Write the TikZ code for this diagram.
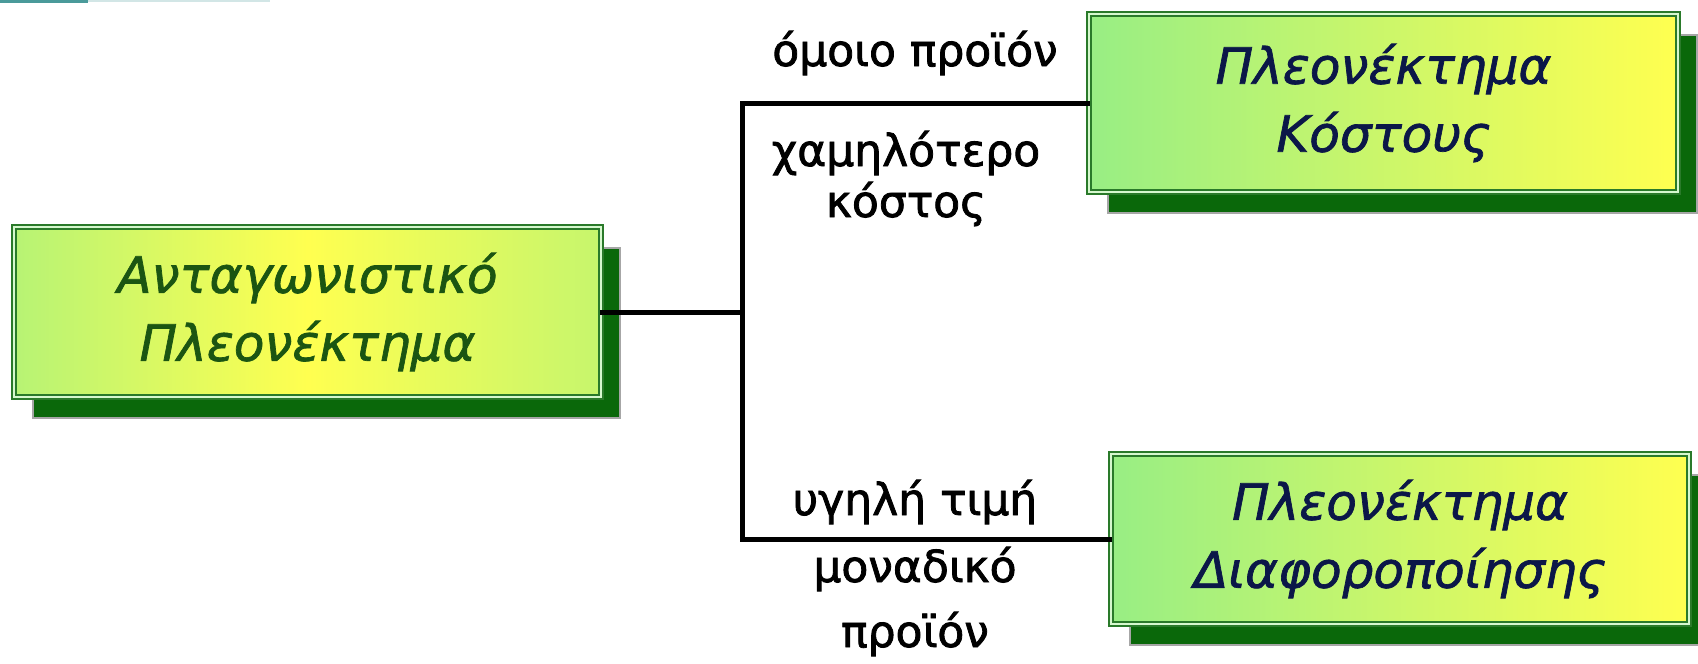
\documentclass[tikz,border=0pt]{standalone}
\usepackage{fontspec}
\setmainfont{DejaVu Sans}
\newfontfamily\labelfont[FakeBold=1.8]{DejaVu Sans}
\newfontfamily\boxfont[FakeBold=1.4]{DejaVu Sans}
\usetikzlibrary{shadows}
\definecolor{framegreen}{HTML}{2A7A2A}
\definecolor{shadowgreen}{HTML}{0A680A}
\definecolor{fillgreen}{HTML}{98EE84}
\definecolor{fillyellow}{HTML}{FFFF50}
\definecolor{textgreen}{HTML}{1B5512}
\definecolor{textnavy}{HTML}{0B1748}
\definecolor{cornerteal}{HTML}{4A9A9A}
\tikzset{
  conceptbox/.style={
    draw=framegreen, line width=2.2pt, double=white!60!fillgreen, double distance=1.6pt,
    drop shadow={shadow xshift=19pt, shadow yshift=-21pt, fill=shadowgreen, draw=gray!70, opacity=1},
    align=center, inner sep=0pt, font=\boxfont\itshape\fontsize{50}{68}\selectfont},
  mainbox/.style={conceptbox, left color=fillgreen!70!fillyellow, right color=fillgreen!55!fillyellow,
    middle color=fillyellow, text=textgreen},
  branchbox/.style={conceptbox, left color=fillgreen, right color=fillyellow, text=textnavy},
  conn/.style={line width=5pt, black, line join=miter, line cap=rect},
  edgelabel/.style={anchor=base, inner sep=0pt, font=\labelfont\fontsize{44}{50}\selectfont}
}
\begin{document}
\begin{tikzpicture}[x=1pt, y=-1pt]
  \useasboundingbox[fill=white] (0,0) rectangle (1698,664);
  \fill[cornerteal] (0,0) rectangle (88,2.5);
  \fill[cornerteal!25] (88,0) rectangle (270,2);

  % concept boxes
  \node[mainbox, minimum width=587pt, minimum height=170pt] (comp) at (307.5,312)
    {Ανταγωνιστικό\\Πλεονέκτημα};
  \node[branchbox, minimum width=589pt, minimum height=178pt] (cost) at (1383.5,103)
    {Πλεονέκτημα\\Κόστους};
  \node[branchbox, minimum width=578pt, minimum height=170pt] (diff) at (1400,539)
    {Πλεονέκτημα\\Διαφοροποίησης};

  % branching connector
  \coordinate (split) at (742,312);
  \draw[conn] (comp.east) -- (split);
  \draw[conn] (cost.west) -| (split |- diff.west) -- (diff.west);

  % branch labels
  \node[edgelabel] (l1) at (915,66) {όμοιο προϊόν};
  \node[edgelabel] (l2) at (906,166) {χαμηλότερο};
  \node[edgelabel] (l3) at (906,217) {κόστος};
  \node[edgelabel] (l4) at (915,515) {υγηλή τιμή};
  \node[edgelabel] (l5) at (915,582) {μοναδικό};
  \node[edgelabel] (l6) at (915,647) {προϊόν};
\end{tikzpicture}
\end{document}
